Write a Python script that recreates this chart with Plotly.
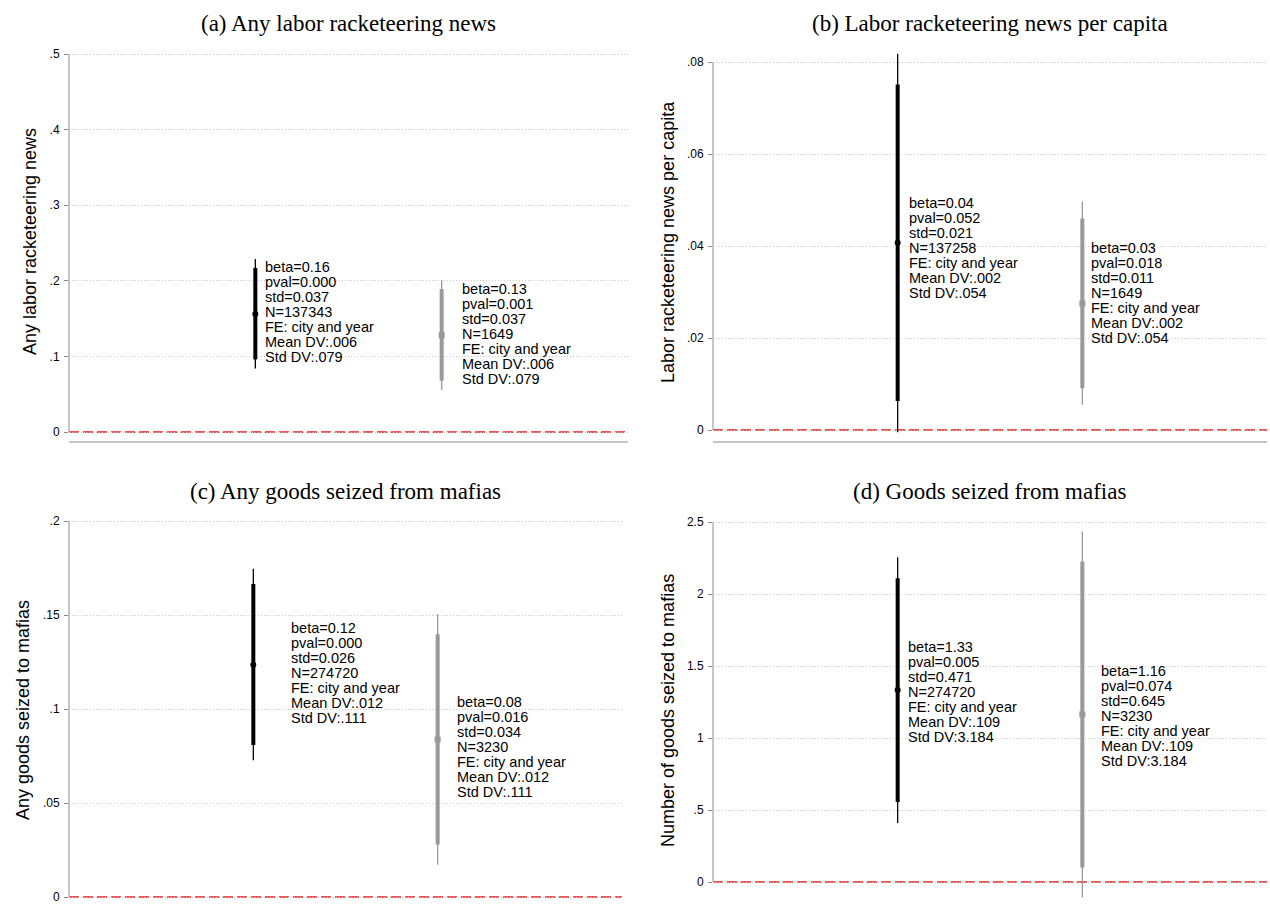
import plotly.graph_objects as go

W, H = 1270, 907

# ---------------- data ----------------
positions = [1, 2]

titles = [
    "(a) Any labor racketeering news",
    "(b) Labor racketeering news per capita",
    "(c) Any goods seized from mafias",
    "(d) Goods seized from mafias",
]
y_titles = [
    "Any labor racketeering news",
    "Labor racketeering news per capita",
    "Any goods seized to mafias",
    "Number of goods seized to mafias",
]

# (a) Any labor racketeering news
beta_a = [0.156, 0.128]
lo95_a = [0.084, 0.0555]
lo90_a = [0.096, 0.068]
hi90_a = [0.217, 0.189]
hi95_a = [0.229, 0.201]
pval_a = ["0.000", "0.001"]
std_a = ["0.037", "0.037"]
n_a = [137343, 1649]
mean_dv_a = ".006"
sd_dv_a = ".079"
ticks_a = [0, 0.1, 0.2, 0.3, 0.4, 0.5]
ticklabels_a = ["0", ".1", ".2", ".3", ".4", ".5"]

# (b) Labor racketeering news per capita
beta_b = [0.0407, 0.0275]
lo95_b = [-0.0005, 0.0055]
lo90_b = [0.0063, 0.0091]
hi90_b = [0.0751, 0.0460]
hi95_b = [0.0818, 0.0497]
pval_b = ["0.052", "0.018"]
std_b = ["0.021", "0.011"]
n_b = [137258, 1649]
mean_dv_b = ".002"
sd_dv_b = ".054"
ticks_b = [0, 0.02, 0.04, 0.06, 0.08]
ticklabels_b = ["0", ".02", ".04", ".06", ".08"]

# (c) Any goods seized from mafias
beta_c = [0.1236, 0.0838]
lo95_c = [0.0727, 0.0172]
lo90_c = [0.0808, 0.0279]
hi90_c = [0.1665, 0.1398]
hi95_c = [0.1746, 0.1504]
pval_c = ["0.000", "0.016"]
std_c = ["0.026", "0.034"]
n_c = [274720, 3230]
mean_dv_c = ".012"
sd_dv_c = ".111"
ticks_c = [0, 0.05, 0.1, 0.15, 0.2]
ticklabels_c = ["0", ".05", ".1", ".15", ".2"]

# (d) Goods seized from mafias
beta_d = [1.333, 1.164]
lo95_d = [0.410, -0.106]
lo90_d = [0.556, 0.100]
hi90_d = [2.109, 2.225]
hi95_d = [2.256, 2.434]
pval_d = ["0.005", "0.074"]
std_d = ["0.471", "0.645"]
n_d = [274720, 3230]
mean_dv_d = ".109"
sd_dv_d = "3.184"
ticks_d = [0, 0.5, 1, 1.5, 2, 2.5]
ticklabels_d = ["0", ".5", "1", "1.5", "2", "2.5"]

fixed_effects = "city and year"

panels = [
    dict(beta=beta_a, lo95=lo95_a, lo90=lo90_a, hi90=hi90_a, hi95=hi95_a, pval=pval_a,
         std=std_a, n=n_a, mean=mean_dv_a, sd=sd_dv_a, ticks=ticks_a, labels=ticklabels_a),
    dict(beta=beta_b, lo95=lo95_b, lo90=lo90_b, hi90=hi90_b, hi95=hi95_b, pval=pval_b,
         std=std_b, n=n_b, mean=mean_dv_b, sd=sd_dv_b, ticks=ticks_b, labels=ticklabels_b),
    dict(beta=beta_c, lo95=lo95_c, lo90=lo90_c, hi90=hi90_c, hi95=hi95_c, pval=pval_c,
         std=std_c, n=n_c, mean=mean_dv_c, sd=sd_dv_c, ticks=ticks_c, labels=ticklabels_c),
    dict(beta=beta_d, lo95=lo95_d, lo90=lo90_d, hi90=hi90_d, hi95=hi95_d, pval=pval_d,
         std=std_d, n=n_d, mean=mean_dv_d, sd=sd_dv_d, ticks=ticks_d, labels=ticklabels_d),
]

# ---------------- layout geometry (pixels) ----------------
# left/right/top/bottom of each plot box, pixel row of the zero line and of the top tick
geometry = [
    dict(left=69, right=628, top=40, bottom=441, zero=432, top_px=54, xline=True),
    dict(left=713, right=1267, top=40, bottom=441, zero=430, top_px=62, xline=True),
    dict(left=69, right=622, top=510, bottom=907, zero=897, top_px=521, xline=False),
    dict(left=713, right=1267, top=510, bottom=907, zero=882, top_px=522, xline=False),
]
title_pos = [(348.5, 23), (990, 23), (345.5, 491), (990, 491)]
ytitle_pos = [(30, 242), (668, 242), (23, 710), (668, 711)]
# stats block offsets (dx, dy) in px relative to each estimate
label_offsets = [
    [(8, 2), (18, 1)],
    [(9, -5), (7, 11)],
    [(36, -8), (17, -8)],
    [(8, -2), (17, -2)],
]
line_step = 15

colors = ["#000000", "#999999"]
symbols = ["circle", "square"]
SANS = "Liberation Sans, Arial, Helvetica, sans-serif"
SERIF = "Liberation Serif, Times New Roman, serif"

fig = go.Figure()
layout = dict(
    width=W, height=H, margin=dict(l=0, r=0, t=0, b=0),
    paper_bgcolor="white", plot_bgcolor="white", showlegend=False,
    annotations=[], shapes=[],
)

for k, (p, g) in enumerate(zip(panels, geometry)):
    suffix = "" if k == 0 else str(k + 1)
    xa, ya = "x" + suffix, "y" + suffix
    top_tick = p["ticks"][-1]
    scale = (g["zero"] - g["top_px"]) / top_tick
    y_lo = (g["zero"] - g["bottom"]) / scale
    y_hi = (g["zero"] - g["top"]) / scale

    layout["xaxis" + suffix] = dict(
        domain=[g["left"] / W, g["right"] / W], range=[0, 3], anchor=ya,
        showgrid=False, zeroline=False, showticklabels=False, ticks="",
        showline=g["xline"], linecolor="#c4c4c4", linewidth=2,
    )
    layout["yaxis" + suffix] = dict(
        domain=[1 - g["bottom"] / H, 1 - g["top"] / H], range=[y_lo, y_hi], anchor=xa,
        tickmode="array", tickvals=p["ticks"], ticktext=p["labels"],
        ticks="outside", ticklen=4, tickwidth=1, tickcolor="#8a8a8a",
        tickfont=dict(family=SANS, size=12, color="black"), ticklabelstandoff=2,
        showgrid=True, gridcolor="#c8c8c8", gridwidth=1, griddash="1px,2px",
        zeroline=False, showline=False,
    )

    # zero reference line
    layout["shapes"].append(dict(
        type="line", xref=xa + " domain", yref=ya, x0=0, x1=1, y0=0, y1=0,
        line=dict(color="#ee1c1c", width=1.6, dash="10px,4px"), layer="below",
    ))
    # y axis line from zero to the top tick
    layout["shapes"].append(dict(
        type="line", xref=xa + " domain", yref=ya, x0=0, x1=0, y0=0, y1=top_tick,
        line=dict(color="#a8a8a8", width=1.3),
    ))

    for i in range(2):
        c = colors[i]
        xi = positions[i]
        fig.add_trace(go.Scatter(
            x=[xi, xi], y=[p["lo95"][i], p["hi95"][i]], mode="lines",
            line=dict(color=c, width=1.3), xaxis=xa, yaxis=ya, hoverinfo="skip"))
        fig.add_trace(go.Scatter(
            x=[xi, xi], y=[p["lo90"][i], p["hi90"][i]], mode="lines",
            line=dict(color=c, width=4), xaxis=xa, yaxis=ya, hoverinfo="skip"))
        fig.add_trace(go.Scatter(
            x=[xi], y=[p["beta"][i]], mode="markers",
            marker=dict(symbol=symbols[i], size=6, color=c), xaxis=xa, yaxis=ya))

        lines = [
            f"beta={p['beta'][i]:.2f}",
            f"pval={p['pval'][i]}",
            f"std={p['std'][i]}",
            f"N={p['n'][i]}",
            f"FE: {fixed_effects}",
            f"Mean DV:{p['mean']}",
            f"Std DV:{p['sd']}",
        ]
        dx, dy = label_offsets[k][i]
        for j, txt in enumerate(lines):
            layout["annotations"].append(dict(
                x=xi, y=p["beta"][i], xref=xa, yref=ya, text=txt, showarrow=False,
                xanchor="left", yanchor="middle", xshift=dx,
                yshift=dy + (3 - j) * line_step,
                font=dict(family=SANS, size=14.5, color="black"),
            ))

    tx, ty = title_pos[k]
    layout["annotations"].append(dict(
        x=tx / W, y=1 - ty / H, xref="paper", yref="paper", text=titles[k],
        showarrow=False, xanchor="center", yanchor="middle",
        font=dict(family=SERIF, size=23, color="black"),
    ))
    yx, yy = ytitle_pos[k]
    layout["annotations"].append(dict(
        x=yx / W, y=1 - yy / H, xref="paper", yref="paper", text=y_titles[k],
        showarrow=False, xanchor="center", yanchor="middle", textangle=-90,
        font=dict(family=SANS, size=18, color="black"),
    ))

fig.update_layout(**layout)
fig.write_html("out.html")
